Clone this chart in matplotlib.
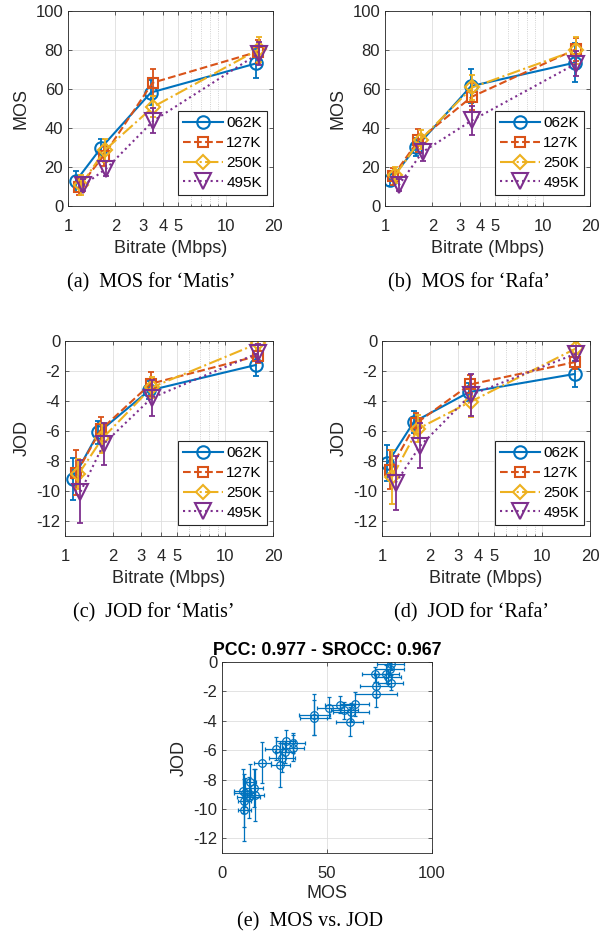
import matplotlib
matplotlib.use("Agg")
import matplotlib.pyplot as plt
from matplotlib.ticker import FixedLocator, NullFormatter

plt.rcParams["font.family"] = ["Liberation Sans", "DejaVu Sans"]
plt.rcParams["axes.unicode_minus"] = False

# --- data ---
series = ["062K", "127K", "250K", "495K"]

# bitrate (Mbps) of each encoding, per content
rate_matis = [
    [1.12, 1.62, 3.36, 15.6],
    [1.18, 1.68, 3.44, 16.0],
    [1.21, 1.71, 3.48, 16.2],
    [1.25, 1.75, 3.48, 16.2],
]
rate_rafa = [
    [1.08, 1.58, 3.52, 16.0],
    [1.12, 1.63, 3.55, 16.2],
    [1.16, 1.68, 3.58, 16.3],
    [1.22, 1.73, 3.58, 16.3],
]

mos_matis = [
    [12.7, 29.8, 58.2, 73.1],
    [9.8, 25.7, 63.2, 79.1],
    [10.8, 28.6, 50.9, 80.3],
    [10.6, 19.2, 43.7, 78.2],
]
mos_matis_err = [
    [5.5, 4.5, 6.5, 7.5],
    [4.0, 5.0, 7.0, 6.0],
    [5.0, 6.0, 5.5, 6.5],
    [3.0, 4.0, 6.5, 6.0],
]
mos_rafa = [
    [13.2, 30.3, 61.5, 73.5],
    [15.2, 33.7, 56.0, 80.3],
    [15.8, 34.0, 60.8, 79.9],
    [10.6, 27.7, 44.0, 73.0],
]
mos_rafa_err = [
    [3.0, 4.5, 8.5, 10.0],
    [4.5, 6.0, 7.0, 6.0],
    [4.0, 5.0, 6.5, 7.0],
    [3.0, 4.5, 7.5, 6.5],
]

jod_matis = [
    [-9.2, -6.1, -3.3, -1.6],
    [-8.8, -5.9, -2.85, -1.0],
    [-8.9, -6.5, -3.1, -0.15],
    [-10.05, -6.85, -3.8, -0.8],
]
jod_matis_err = [
    [1.4, 0.75, 0.6, 0.75],
    [1.5, 0.8, 0.8, 0.5],
    [1.0, 1.0, 0.7, 0.4],
    [2.1, 1.4, 1.2, 0.6],
]
jod_rafa = [
    [-8.15, -5.4, -3.4, -2.2],
    [-8.6, -5.5, -2.9, -1.4],
    [-9.05, -5.85, -4.05, -0.5],
    [-9.45, -7.0, -3.6, -0.85],
]
jod_rafa_err = [
    [1.2, 0.75, 0.6, 0.85],
    [1.3, 0.7, 0.6, 0.5],
    [1.8, 0.9, 1.0, 0.4],
    [1.8, 1.5, 1.4, 0.5],
]

rate_ticks = [1, 2, 3, 4, 5, 10, 20]
rate_minor = [6, 7, 8, 9]

# --- style ---
COLORS = ["#0072bd", "#d95319", "#edb120", "#7e2f8e"]
LINES = ["-", "--", "-.", ":"]
MARKERS = ["o", "s", "D", "v"]
MSIZES = [9, 7.5, 7, 11]
AXC = "#262626"
GRIDC = "#dedede"

W, H = 608, 938


def rect(l, t, r, b):
    return [l / W, 1 - b / H, (r - l) / W, (b - t) / H]


def style_axes(ax):
    for s in ax.spines.values():
        s.set_color(AXC)
        s.set_linewidth(0.6)
    ax.tick_params(which="both", direction="in", top=True, right=True,
                   colors=AXC, labelsize=12, width=0.5)
    ax.tick_params(which="major", length=3)
    ax.tick_params(which="minor", length=1.5)
    ax.tick_params(axis="x", pad=9.5)
    ax.tick_params(axis="y", pad=3.5)
    ax.set_axisbelow(True)
    ax.grid(True, which="major", color=GRIDC, lw=0.6)


def rate_panel(ax, rates, vals, errs, ylabel, ylim, yticks):
    for i in range(len(series)):
        ax.errorbar(rates[i], vals[i], yerr=errs[i], fmt="none", ecolor=COLORS[i],
                    elinewidth=1.3, capsize=2.5, capthick=1.3)
        ax.plot(rates[i], vals[i], ls=LINES[i], marker=MARKERS[i], ms=MSIZES[i],
                mfc="none", mec=COLORS[i], mew=1.5, color=COLORS[i], lw=1.5,
                label=series[i])
    ax.set_xscale("log")
    ax.set_xlim(1, 20)
    ax.set_xticks(rate_ticks, labels=[str(t) for t in rate_ticks])
    ax.xaxis.set_minor_locator(FixedLocator(rate_minor))
    ax.xaxis.set_minor_formatter(NullFormatter())
    ax.set_ylim(*ylim)
    ax.set_yticks(yticks)
    style_axes(ax)
    ax.grid(True, which="minor", axis="x", color="#c4c4c4", lw=0.6, ls=":")
    ax.set_xlabel("Bitrate (Mbps)", fontsize=13, color=AXC, labelpad=4)
    ax.set_ylabel(ylabel, fontsize=13, color=AXC, labelpad=4)
    leg = ax.legend(loc="lower right", bbox_to_anchor=(0.972, 0.056),
                    borderaxespad=0, fontsize=11, fancybox=False,
                    edgecolor=AXC, framealpha=1, handlelength=2.6,
                    handletextpad=0.22, labelspacing=0.38, borderpad=0.35)
    leg.get_frame().set_linewidth(0.8)


fig = plt.figure(figsize=(W / 100, H / 100), dpi=100)

ax_a = fig.add_axes(rect(68, 11, 273, 206))
rate_panel(ax_a, rate_matis, mos_matis, mos_matis_err, "MOS", (0, 100), range(0, 101, 20))
ax_b = fig.add_axes(rect(385, 11, 590, 206))
rate_panel(ax_b, rate_rafa, mos_rafa, mos_rafa_err, "MOS", (0, 100), range(0, 101, 20))
ax_c = fig.add_axes(rect(65, 341, 273, 536))
rate_panel(ax_c, rate_matis, jod_matis, jod_matis_err, "JOD", (-13, 0), range(-12, 1, 2))
ax_d = fig.add_axes(rect(382, 341, 590, 536))
rate_panel(ax_d, rate_rafa, jod_rafa, jod_rafa_err, "JOD", (-13, 0), range(-12, 1, 2))

# scatter MOS vs JOD, all encodings of both contents
mos_all = [v for grp in (mos_matis, mos_rafa) for row in grp for v in row]
mos_err_all = [v for grp in (mos_matis_err, mos_rafa_err) for row in grp for v in row]
jod_all = [v for grp in (jod_matis, jod_rafa) for row in grp for v in row]
jod_err_all = [v for grp in (jod_matis_err, jod_rafa_err) for row in grp for v in row]

ax_e = fig.add_axes(rect(222, 662, 432, 853))
ax_e.errorbar(mos_all, jod_all, xerr=mos_err_all, yerr=jod_err_all, fmt="o",
              ms=5.5, mfc="none", mec=COLORS[0], mew=0.9, color=COLORS[0],
              elinewidth=0.9, capsize=1.5, capthick=0.9)
ax_e.set_xlim(0, 100)
ax_e.set_xticks([0, 50, 100])
ax_e.set_ylim(-13, 0)
ax_e.set_yticks(range(-12, 1, 2))
style_axes(ax_e)
ax_e.set_xlabel("MOS", fontsize=13, color=AXC, labelpad=3)
ax_e.set_ylabel("JOD", fontsize=13, color=AXC, labelpad=4)
ax_e.set_title("PCC: 0.977 - SROCC: 0.967", fontsize=12.8, fontweight="bold",
               color="black", pad=5)

captions = [
    (151, 283, "(a)  MOS for \u2018Matis\u2019"),
    (469, 283, "(b)  MOS for \u2018Rafa\u2019"),
    (154, 613, "(c)  JOD for \u2018Matis\u2019"),
    (472, 613, "(d)  JOD for \u2018Rafa\u2019"),
    (310, 922, "(e)  MOS vs. JOD"),
]
for x, y, txt in captions:
    fig.text(x / W, 1 - y / H, txt, ha="center", va="center", fontsize=14.5,
             family=["Liberation Serif", "DejaVu Serif"])

fig.savefig("out.png", dpi=100)
